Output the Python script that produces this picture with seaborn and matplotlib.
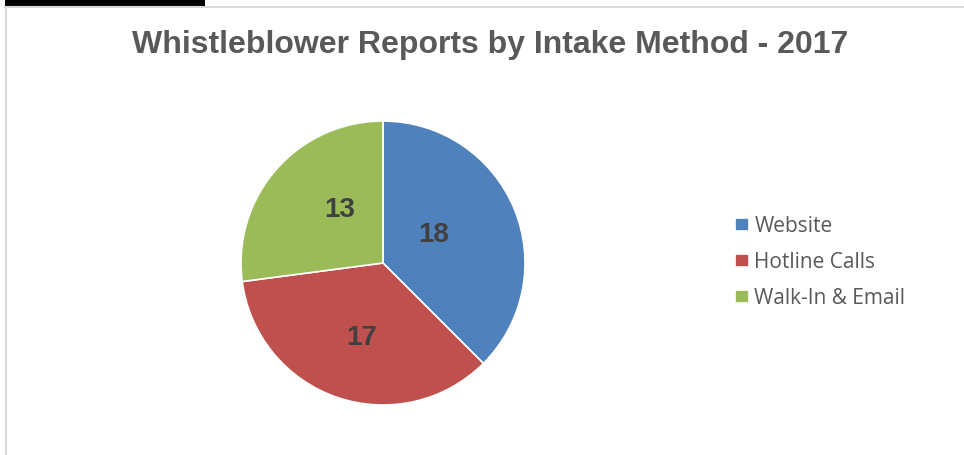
import matplotlib
matplotlib.use("Agg")
import matplotlib.pyplot as plt
import seaborn as sns
import numpy as np
from matplotlib.patches import Rectangle
from matplotlib.lines import Line2D

categories = ["Website", "Hotline Calls", "Walk-In & Email"]
values = [18, 17, 13]
colors = ["#4F81BD", "#C0504D", "#9BBB59"]
title = "Whistleblower Reports by Intake Method - 2017"

sns.set_theme(style="white")
plt.rcParams["font.family"] = ["Liberation Sans", "DejaVu Sans"]

W, H = 964, 455
fig = plt.figure(figsize=(W / 100, H / 100), dpi=100)
fig.patch.set_facecolor("white")

# frame decorations
fig.add_artist(Rectangle((5 / W, 1 - 5.5 / H), 200 / W, 5.5 / H, transform=fig.transFigure,
                         facecolor="black", edgecolor="none"))
fig.add_artist(Line2D([5 / W, 1], [1 - 6.5 / H, 1 - 6.5 / H], transform=fig.transFigure,
                      color="#D9D9D9", lw=1.5))
fig.add_artist(Line2D([5.5 / W, 5.5 / W], [0, 1 - 6.5 / H], transform=fig.transFigure,
                      color="#D9D9D9", lw=1.5))

cx, cy, r = 383, 263, 142
ax = fig.add_axes([(cx - r) / W, (H - cy - r) / H, 2 * r / W, 2 * r / H])
wedges, texts, autotexts = ax.pie(
    values, colors=colors, startangle=90, counterclock=False,
    autopct=lambda p: f"{round(p * sum(values) / 100):d}", pctdistance=0.5,
    wedgeprops=dict(linewidth=1.2, edgecolor="white"),
    textprops=dict(fontsize=20, fontweight="bold", color="#404040"))
# label placement tweaks (distance from centre, angle offset in degrees)
label_dist = [0.42, 0.53, 0.50]
label_angle_shift = [8.5, 2.0, -11.0]
for t, w, d, s in zip(autotexts, wedges, label_dist, label_angle_shift):
    a = np.deg2rad((w.theta1 + w.theta2) / 2 + s)
    t.set_position((d * np.cos(a), d * np.sin(a)))
    t.set_va("center_baseline")
ax.set_xlim(-1, 1)
ax.set_ylim(-1, 1)
ax.set_aspect("equal")
ax.axis("off")

fig.text(490.5 / W, 1 - 45 / H, title, ha="center", va="center",
         fontsize=23, fontweight="bold", color="#595959")

leg = fig.legend(wedges, categories, loc="center left", bbox_to_anchor=(735 / W, 1 - 262.5 / H),
                 frameon=False, prop=dict(family="Open Sans", size=15),
                 handlelength=0.63, handleheight=0.63, handletextpad=0.3,
                 labelspacing=0.72, borderpad=0, borderaxespad=0, labelcolor="#595959")
sq = 9.8  # points (~13.6 px)
for h in leg.legend_handles:
    yc = h.get_y() + h.get_height() / 2
    h.set_width(sq)
    h.set_height(sq)
    h.set_y(yc - sq / 2)

fig.savefig("out.png", dpi=100, facecolor="white")
